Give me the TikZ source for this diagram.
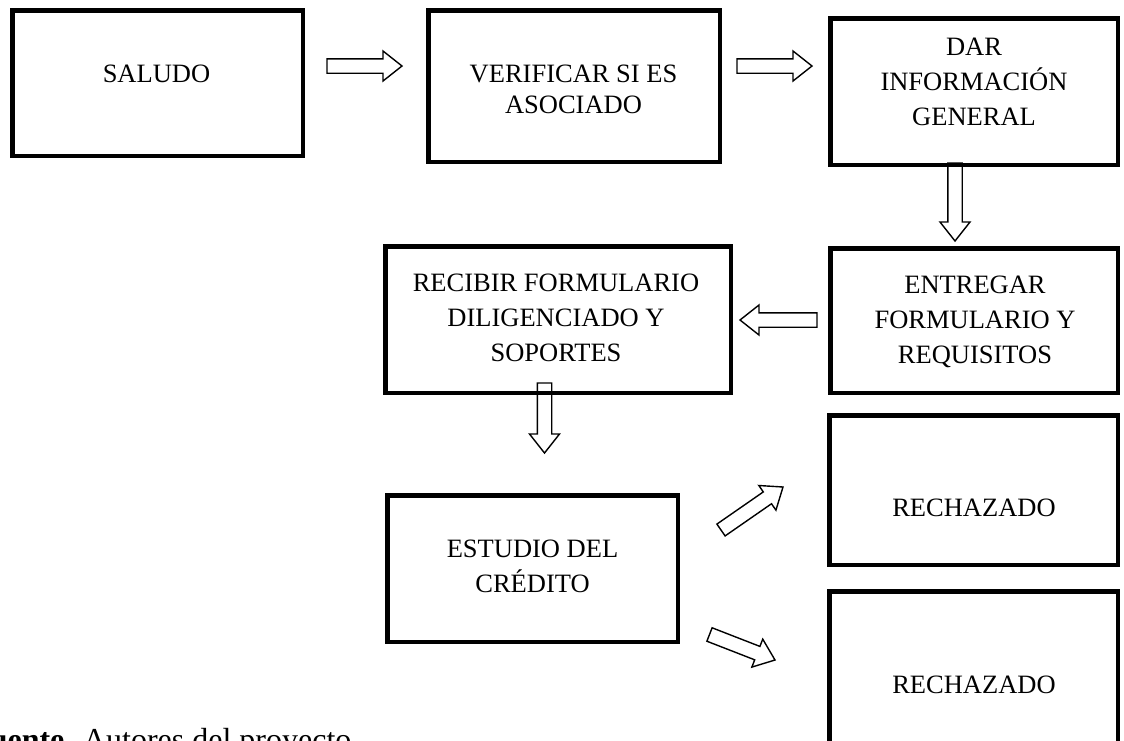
\documentclass[tikz,border=0pt]{standalone}
\usepackage{fontspec}
\setmainfont{Liberation Serif}
\usetikzlibrary{calc}
\newcommand{\blockarrow}[2]{%
  \coordinate (bhb) at ($(#2)!19pt!(#1)$);
  \draw[barrow] ($(#1)!7.2pt!90:(#2)$) -- ($(bhb)!7.2pt!90:(#2)$) -- ($(bhb)!15pt!90:(#2)$) -- (#2)
    -- ($(bhb)!15pt!-90:(#2)$) -- ($(bhb)!7.2pt!-90:(#2)$) -- ($(#1)!7.2pt!-90:(#2)$) -- cycle;}
\tikzset{
  box/.style={draw, line width=4.5pt, inner sep=0pt},
  barrow/.style={draw, line width=1.4pt, fill=white, line join=miter},
  lbl/.style={anchor=base, inner sep=0pt, font=\fontsize{26.5}{35}\selectfont},
  lbltight/.style={anchor=base, inner sep=0pt, font=\fontsize{26.5}{31.6}\selectfont},
}
\begin{document}
\begin{tikzpicture}[x=1pt,y=-1pt]
\useasboundingbox (0,0) rectangle (1124,740);
\fill[white] (0,0) rectangle (1124,740);
\clip (0,0) rectangle (1124,740);
% arrows
\coordinate (a1s) at (327,66);   \coordinate (a1e) at (402,66);
\coordinate (a2s) at (737,66);   \coordinate (a2e) at (812,66);
\coordinate (a3s) at (955,163);  \coordinate (a3e) at (955,241);
\coordinate (a4s) at (817,320);  \coordinate (a4e) at (740,320);
\coordinate (a5s) at (544.5,383); \coordinate (a5e) at (544.5,453);
\coordinate (a6s) at (721,530);  \coordinate (a6e) at (783,487);
\coordinate (a7s) at (709.5,634.5);  \coordinate (a7e) at (775,660);
\blockarrow{a1s}{a1e}
\blockarrow{a2s}{a2e}
\blockarrow{a3s}{a3e}
\blockarrow{a4s}{a4e}
\blockarrow{a5s}{a5e}
\blockarrow{a6s}{a6e}
\blockarrow{a7s}{a7e}
% boxes
\node[box, minimum width=290.5pt, minimum height=145.5pt] (b1) at (157.5,83) {};
\node[box, minimum width=291.5pt, minimum height=151.5pt] (b2) at (574,86) {};
\node[box, minimum width=287.5pt, minimum height=146.5pt] (b3) at (974,91.5) {};
\node[box, minimum width=287.5pt, minimum height=144.5pt] (b4) at (974,320.5) {};
\node[box, minimum width=345.5pt, minimum height=146.5pt] (b5) at (558,319.5) {};
\node[box, minimum width=290.5pt, minimum height=146.5pt] (b6) at (532.5,568.5) {};
\node[box, minimum width=288.5pt, minimum height=149.5pt] (b7) at (973.5,490) {};
\node[box, minimum width=288.5pt, minimum height=151.5pt] (b8) at (973.5,667) {};
% labels
\node[lbl] (t1) at (156.5,82) {SALUDO};
\node[lbltight] (t2) at (573.5,82) {\begin{tabular}[t]{@{}c@{}}VERIFICAR SI ES\\ASOCIADO\end{tabular}};
\node[lbl] (t3) at (974,55) {\begin{tabular}[t]{@{}c@{}}DAR\\INFORMACIÓN\\GENERAL\end{tabular}};
\node[lbl] (t4) at (975,293) {\begin{tabular}[t]{@{}c@{}}ENTREGAR\\FORMULARIO Y\\REQUISITOS\end{tabular}};
\node[lbl] (t5) at (556,291.7) {\begin{tabular}[t]{@{}c@{}}RECIBIR FORMULARIO\\DILIGENCIADO Y\\SOPORTES\end{tabular}};
\node[lbl] (t6) at (532.5,557) {\begin{tabular}[t]{@{}c@{}}ESTUDIO DEL\\CRÉDITO\end{tabular}};
\node[lbl] (t7) at (974,516) {RECHAZADO};
\node[lbl] (t8) at (974,693) {RECHAZADO};
\node[anchor=base west, inner sep=0pt, font=\fontsize{32}{38}\selectfont] (src) at (-30,750) {\textbf{Fuente}. Autores del proyecto};
\end{tikzpicture}
\end{document}
